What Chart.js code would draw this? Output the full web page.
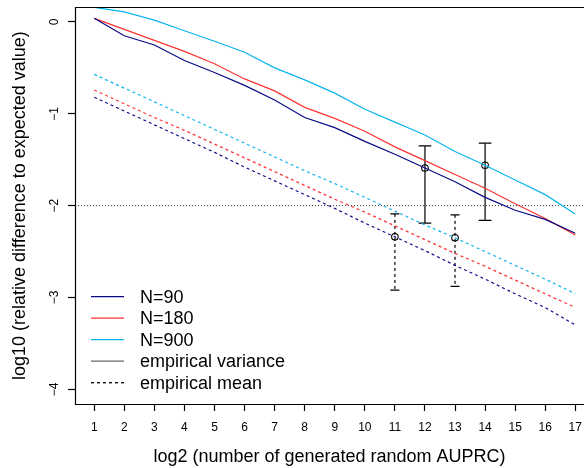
<!DOCTYPE html>
<html><head><meta charset="utf-8">
<script src="https://cdn.jsdelivr.net/npm/chart.js@4"></script>
<style>html,body{margin:0;padding:0;background:#fff;overflow:hidden}#wrap{width:584px;height:468px}</style>
</head><body><div id="wrap"><canvas id="c" width="584" height="468"></canvas></div>
<script>
// ---- data ----
const log2Counts = [1,2,3,4,5,6,7,8,9,10,11,12,13,14,15,16,17];
const varN90  = [0.04,-0.15,-0.25,-0.42,-0.55,-0.69,-0.85,-1.04,-1.15,-1.30,-1.44,-1.59,-1.74,-1.91,-2.05,-2.15,-2.30];
const varN180 = [0.04,-0.08,-0.20,-0.32,-0.455,-0.62,-0.75,-0.93,-1.05,-1.19,-1.36,-1.51,-1.66,-1.81,-1.98,-2.14,-2.32];
const varN900 = [0.16,0.11,0.02,-0.095,-0.21,-0.33,-0.50,-0.63,-0.775,-0.95,-1.09,-1.23,-1.41,-1.56,-1.72,-1.88,-2.09];
const meanN90  = [-0.82,-0.97,-1.12,-1.27,-1.42,-1.58,-1.73,-1.88,-2.03,-2.19,-2.34,-2.49,-2.65,-2.80,-2.96,-3.11,-3.30];
const meanN180 = [-0.74,-0.89,-1.04,-1.18,-1.33,-1.48,-1.63,-1.78,-1.93,-2.07,-2.22,-2.37,-2.52,-2.66,-2.81,-2.96,-3.11];
const meanN900 = [-0.57,-0.72,-0.87,-1.02,-1.17,-1.32,-1.47,-1.62,-1.76,-1.91,-2.06,-2.21,-2.35,-2.50,-2.65,-2.80,-2.96];
const varBarX = [12, 14];
const varBarMid = [-1.59, -1.56];
const varBarHigh = [-1.35, -1.32];
const varBarLow = [-2.19, -2.16];
const meanBarX = [11, 13];
const meanBarMid = [-2.34, -2.35];
const meanBarHigh = [-2.09, -2.10];
const meanBarLow = [-2.92, -2.88];
const refLevel = -2;
const xTickValues = [1,2,3,4,5,6,7,8,9,10,11,12,13,14,15,16,17];
const yTickValues = [-4,-3,-2,-1,0];
const legendLabels = ['N=90','N=180','N=900','empirical variance','empirical mean'];

// ---- styles ----
const xMin = 0.36, xMax = 17.29, yMin = -4.16, yMax = 0.16;
const cNavy = '#0a0a85', cRed = '#ff3535', cCyan = '#0cb4ee';
const legendColors = [cNavy, cRed, cCyan, '#666666', '#000000'];
const DASH = [3, 3];
const legendDash = [[], [], [], [], DASH];
const FONT = "'Liberation Sans', Arial, Helvetica, sans-serif";

function pts(xs, ys){ return xs.map((x,i)=>({x:x, y:ys[i]})); }
function lineDs(ys, color, dash){
  return {data: pts(log2Counts, ys), borderColor: color, borderWidth: 1.2, borderDash: dash,
          showLine: true, pointRadius: 0, tension: 0, fill: false};
}
const datasets = [
  lineDs(varN90, cNavy, []), lineDs(varN180, cRed, []), lineDs(varN900, cCyan, []),
  lineDs(meanN90, cNavy, DASH), lineDs(meanN180, cRed, DASH), lineDs(meanN900, cCyan, DASH),
  {data: [{x:xMin,y:refLevel},{x:xMax,y:refLevel}], borderColor:'#333', borderWidth:1, borderDash:[1,2],
   showLine:true, pointRadius:0}
];
varBarX.forEach((x,i)=>{
  datasets.push({data:[{x:x,y:varBarHigh[i]},{x:x,y:varBarLow[i]}], borderColor:'#000', borderWidth:1.2,
    showLine:true, pointStyle:'line', pointRadius:6.3, pointBorderColor:'#000', pointBorderWidth:1.2});
});
meanBarX.forEach((x,i)=>{
  datasets.push({data:[{x:x,y:meanBarHigh[i]},{x:x,y:meanBarLow[i]}], borderColor:'#000', borderWidth:1.2,
    borderDash: DASH, showLine:true, pointStyle:'line', pointRadius:4.5, pointBorderColor:'#000', pointBorderWidth:1.2});
});
datasets.push({data: pts(varBarX.concat(meanBarX), varBarMid.concat(meanBarMid)), showLine:false,
  pointStyle:'circle', pointRadius:3.3, pointBorderColor:'#000', pointBackgroundColor:'rgba(0,0,0,0)', pointBorderWidth:1.1});

function noPad(s){ s.paddingLeft = 0; s.paddingRight = 0; s.paddingTop = 0; s.paddingBottom = 0; }

const boxPlugin = {
  id: 'rbox',
  afterDraw(chart){
    const {ctx, chartArea:a} = chart;
    ctx.save();
    ctx.strokeStyle = '#000'; ctx.lineWidth = 1.2; ctx.setLineDash([]);
    ctx.beginPath();
    ctx.moveTo(a.right+2, Math.round(a.top)+0.5);
    ctx.lineTo(Math.round(a.left)+0.5, Math.round(a.top)+0.5);
    ctx.lineTo(Math.round(a.left)+0.5, Math.round(a.bottom)+0.5);
    ctx.lineTo(a.right+2, Math.round(a.bottom)+0.5);
    ctx.stroke();
    // legend
    const lx = a.left + 16, ly0 = 296.7, step = 21.5;
    ctx.font = '18px ' + FONT;
    ctx.textBaseline = 'middle'; ctx.textAlign = 'left';
    legendLabels.forEach((lab,i)=>{
      const y = ly0 + i*step;
      ctx.strokeStyle = legendColors[i]; ctx.lineWidth = 1.3;
      ctx.setLineDash(legendDash[i]);
      ctx.beginPath(); ctx.moveTo(lx, y); ctx.lineTo(lx+33, y); ctx.stroke();
      ctx.setLineDash([]);
      ctx.fillStyle = '#000';
      ctx.fillText(lab, lx + 49, y + 1);
    });
    ctx.restore();
  }
};

new Chart(document.getElementById('c'), {
  type: 'scatter',
  data: {datasets},
  options: {
    responsive: false, animation: false, devicePixelRatio: 1,
    layout: {autoPadding: false, padding: {top: 7.3, left: 0, right: 0, bottom: 0}},
    plugins: {legend: {display: false}, tooltip: {enabled: false}},
    scales: {
      x: {
        type: 'linear', min: xMin, max: xMax,
        afterFit(s){ s.height = 64; noPad(s); },
        afterBuildTicks(s){ s.ticks = xTickValues.map(v=>({value:v})); },
        ticks: {stepSize: 1, includeBounds: false, autoSkip: false, maxRotation: 0, minRotation: 0,
                padding: 9.5, color: '#000', font: {family: FONT, size: 12}},
        grid: {drawOnChartArea: false, drawTicks: true, tickLength: 7, tickColor: '#000', tickWidth: 1.2},
        border: {display: false},
        title: {display: true, text: 'log2 (number of generated random AUPRC)', color: '#000',
                font: {family: FONT, size: 18}, padding: {top: 0, bottom: 0.5}}
      },
      y: {
        type: 'linear', min: yMin, max: yMax,
        afterFit(s){ s.width = 75; noPad(s); },
        afterBuildTicks(s){ s.ticks = yTickValues.map(v=>({value:v})); },
        ticks: {stepSize: 1, includeBounds: false, minRotation: 90, maxRotation: 90, crossAlign: 'center',
                padding: 6.2, color: '#000', font: {family: FONT, size: 12},
                callback: v => (v < 0 ? '\u2212' + Math.abs(v) : String(v))},
        grid: {drawOnChartArea: false, drawTicks: true, tickLength: 7, tickColor: '#000', tickWidth: 1.2},
        border: {display: false},
        title: {display: true, text: 'log10 (relative difference to expected value)', color: '#000',
                font: {family: FONT, size: 18}, padding: {top: 9.2, bottom: 0}}
      }
    }
  },
  plugins: [boxPlugin]
});
</script></body></html>
